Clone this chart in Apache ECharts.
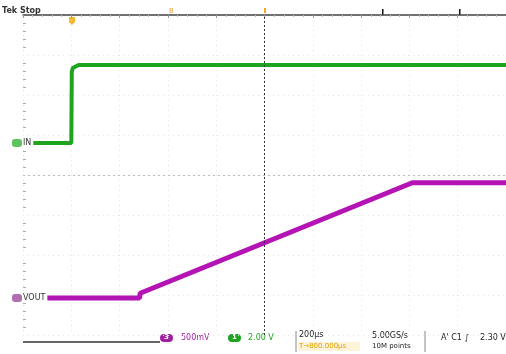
<!DOCTYPE html>
<html>
<head>
<meta charset="utf-8">
<script src="https://cdn.jsdelivr.net/npm/echarts@6/dist/echarts.min.js"></script>
<style>
  html, body { margin: 0; padding: 0; background: #fff; }
  #main { width: 506px; height: 354px; }
</style>
</head>
<body>
<div id="main"></div>
<script>
// 时间 (µs), 触发点在 0
const inTime = [-200, 0, 2, 6, 12, 30, 1800];
const inVolt = [0, 0, 3.55, 3.75, 3.84, 3.9, 3.9];   // 通道1, 2.00 V/div
const outTime = [-200, 283, 285, 1412, 1800];
const outVolt = [0, 0, 0.06, 1.44, 1.44];            // 通道3, 500 mV/div

const toPairs = (xs, ys) => xs.map((x, i) => [x, ys[i]]);

const chart = echarts.init(document.getElementById('main'));

const option = {
  backgroundColor: '#fff',
  animation: false,
  grid: { left: 23, top: 15, width: 484, height: 320 },
  xAxis: {
    type: 'value',
    position: 'top',
    min: -200, max: 1800, interval: 200,
    axisLabel: { show: false },
    axisLine: { show: true, onZero: false, lineStyle: { color: '#444', width: 1.5 } },
    axisTick: { show: true, length: 3, inside: true, lineStyle: { color: '#999' } },
    minorTick: { show: true, splitNumber: 5, length: 2, lineStyle: { color: '#bbb' } },
    splitLine: { show: true, lineStyle: { color: '#e4e4e4', type: [1, 4] } }
  },
  yAxis: [
    {
      // 网格分度
      type: 'value', min: 0, max: 8, interval: 1,
      axisLabel: { show: false },
      axisLine: { show: false, onZero: false },
      axisTick: { show: false, inside: true },
      minorTick: { show: true, splitNumber: 5, length: 3, lineStyle: { color: '#aaa' } },
      splitLine: { show: true, lineStyle: { color: '#e4e4e4', type: [1, 4] } }
    },
    { type: 'value', min: -9.6, max: 6.4, show: false },
    { type: 'value', min: -0.4625, max: 3.5375, show: false }
  ],
  series: [
    {
      type: 'line', yAxisIndex: 0, data: [],
      markLine: {
        silent: true, symbol: 'none', label: { show: false },
        data: [
          { xAxis: 800, lineStyle: { color: '#333', type: [2, 2], width: 1 } },
          { yAxis: 4, lineStyle: { color: '#bbb', type: [2, 3], width: 1 } }
        ]
      }
    },
    {
      name: 'IN', type: 'line', yAxisIndex: 1, showSymbol: false,
      data: toPairs(inTime, inVolt),
      lineStyle: { color: '#1ea41e', width: 4 }
    },
    {
      name: 'VOUT', type: 'line', yAxisIndex: 2, showSymbol: false,
      data: toPairs(outTime, outVolt),
      lineStyle: { color: '#b414b4', width: 5 }
    }
  ],
  graphic: [
    { type: 'text', left: 2, top: 7, style: { text: 'Tek Stop', font: 'bold 8px "DejaVu Sans"', fill: '#333' } },
    { type: 'polygon', shape: { points: [[69, 17], [75, 17], [75, 22], [72, 25], [69, 22]] }, style: { fill: '#f5b630' } },
    { type: 'text', left: 169, top: 8, style: { text: 'B', font: '7px "DejaVu Sans"', fill: '#e8a040' } },
    { type: 'rect', shape: { x: 264, y: 8, width: 2, height: 5 }, style: { fill: '#f5a623' } },
    { type: 'rect', shape: { x: 382, y: 9, width: 1.5, height: 6 }, style: { fill: '#111' } },
    { type: 'rect', shape: { x: 459, y: 9, width: 1.5, height: 6 }, style: { fill: '#111' } },
    // 通道标记
    { type: 'rect', z: 100, shape: { x: 12, y: 139, width: 10, height: 8, r: 3 }, style: { fill: '#5ec45e' } },
    { type: 'text', z: 100, left: 22, top: 139, style: { text: 'IN', font: '8px "DejaVu Sans"', fill: '#333', backgroundColor: '#fff', padding: [0, 2, 0, 1] } },
    { type: 'rect', z: 100, shape: { x: 12, y: 294, width: 10, height: 8, r: 3 }, style: { fill: '#b070b0' } },
    { type: 'text', z: 100, left: 22, top: 294, style: { text: 'VOUT', font: '8px "DejaVu Sans"', fill: '#333', backgroundColor: '#fff', padding: [0, 2, 0, 1] } },
    // 状态栏
    { type: 'line', shape: { x1: 23, y1: 342, x2: 160, y2: 342 }, style: { stroke: '#333', lineWidth: 1.5 } },
    { type: 'rect', shape: { x: 160, y: 334, width: 13, height: 8, r: 4 }, style: { fill: '#a020a0' } },
    { type: 'text', left: 164, top: 334, style: { text: '3', font: 'bold 7px "DejaVu Sans"', fill: '#fff' } },
    { type: 'text', left: 181, top: 334, style: { text: '500mV', font: '8px "DejaVu Sans"', fill: '#a020a0' } },
    { type: 'rect', shape: { x: 228, y: 334, width: 13, height: 8, r: 4 }, style: { fill: '#1ea41e' } },
    { type: 'text', left: 232, top: 334, style: { text: '1', font: 'bold 7px "DejaVu Sans"', fill: '#fff' } },
    { type: 'text', left: 248, top: 334, style: { text: '2.00 V', font: '8px "DejaVu Sans"', fill: '#1ea41e' } },
    { type: 'line', shape: { x1: 296, y1: 331, x2: 296, y2: 352 }, style: { stroke: '#888', lineWidth: 1 } },
    { type: 'text', left: 299, top: 331, style: { text: '200µs', font: '8px "DejaVu Sans"', fill: '#222' } },
    { type: 'rect', shape: { x: 298, y: 342, width: 62, height: 9 }, style: { fill: '#fdf3d8' } },
    { type: 'text', left: 299, top: 343, style: { text: 'T→800.000µs', font: '7px "DejaVu Sans"', fill: '#e0a000' } },
    { type: 'text', left: 372, top: 332, style: { text: '5.00GS/s', font: '8px "DejaVu Sans"', fill: '#222' } },
    { type: 'text', left: 372, top: 343, style: { text: '10M points', font: '7px "DejaVu Sans"', fill: '#222' } },
    { type: 'line', shape: { x1: 425, y1: 331, x2: 425, y2: 352 }, style: { stroke: '#888', lineWidth: 1 } },
    { type: 'text', left: 441, top: 334, style: { text: "A' C1 ∫", font: '8px "DejaVu Sans"', fill: '#222' } },
    { type: 'text', left: 480, top: 334, style: { text: '2.30 V', font: '8px "DejaVu Sans"', fill: '#222' } }
  ]
};

chart.setOption(option);
</script>
</body>
</html>
